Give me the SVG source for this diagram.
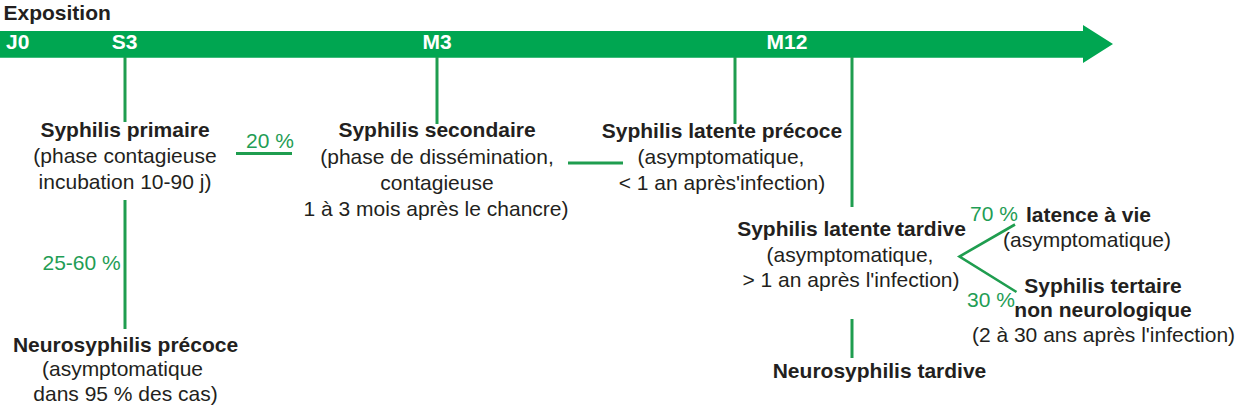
<svg xmlns="http://www.w3.org/2000/svg" width="1241" height="413" viewBox="0 0 1241 413">
<style>
text{font-family:"Liberation Sans",Arial,sans-serif;font-size:21px;fill:#231f20}
.b{font-weight:bold}
.m{text-anchor:middle}
.w{fill:#ffffff;font-weight:bold}
.g{fill:#1f9d55}
.ln{stroke:#1f9d4f;stroke-width:3;fill:none}
.v{stroke:#1f9d4f;stroke-width:2.6;fill:none}
</style>
<rect width="1241" height="413" fill="#ffffff"/>
<g id="timeline">
<text class="b" x="3.5" y="20">Exposition</text>
<polygon points="0,31 1083,31 1083,25 1113,44 1083,63 1083,57.7 0,57.7" fill="#00a651"/>
<text class="w" x="6" y="48.5">J0</text>
<text class="w m" x="124.5" y="48.5">S3</text>
<text class="w m" x="437" y="48.5">M3</text>
<text class="w m" x="787" y="48.5">M12</text>
</g>
<g id="connectors">
<line class="ln" x1="125" y1="57" x2="125" y2="122"/>
<line class="ln" x1="437" y1="57" x2="437" y2="124"/>
<line class="ln" x1="735" y1="57" x2="735" y2="124"/>
<line class="ln" x1="852" y1="57" x2="852" y2="207"/>
<line class="ln" x1="125" y1="200" x2="125" y2="329"/>
<line class="ln" x1="852" y1="319" x2="852" y2="358"/>
<line class="ln" x1="236" y1="153.5" x2="292" y2="153.5"/>
<line class="ln" x1="568" y1="163" x2="623" y2="163"/>
<polyline class="v" points="1015,224.5 959.5,256.5 1016.5,292"/>
<text class="g m" x="270" y="147.5">20 %</text>
<text class="g" x="120.7" y="269.5" text-anchor="end">25-60 %</text>
<text class="g m" x="994" y="221">70 %</text>
<text class="g m" x="991" y="306.5">30 %</text>
</g>
<g id="syphilis-primaire">
<text class="b m" x="125" y="137">Syphilis primaire</text>
<text class="m" x="125" y="163">(phase contagieuse</text>
<text class="m" x="125" y="189">incubation 10-90 j)</text>
</g>
<g id="syphilis-secondaire">
<text class="b m" x="437" y="137">Syphilis secondaire</text>
<text class="m" x="437" y="163.5">(phase de dissémination,</text>
<text class="m" x="437" y="190">contagieuse</text>
<text class="m" x="436" y="216">1 à 3 mois après le chancre)</text>
</g>
<g id="syphilis-latente-precoce">
<text class="b m" x="722" y="138">Syphilis latente précoce</text>
<text class="m" x="721" y="164">(asymptomatique,</text>
<text class="m" x="722" y="190">&lt; 1 an après'infection)</text>
</g>
<g id="syphilis-latente-tardive">
<text class="b m" x="851.5" y="236">Syphilis latente tardive</text>
<text class="m" x="850" y="262">(asymptomatique,</text>
<text class="m" x="851" y="287">&gt; 1 an après l'infection)</text>
</g>
<g id="latence-a-vie">
<text class="b" x="1026" y="221.5">latence à vie</text>
<text class="m" x="1087" y="246.5">(asymptomatique)</text>
</g>
<g id="syphilis-tertiaire">
<text class="b m" x="1103" y="293">Syphilis tertaire</text>
<text class="b m" x="1103" y="317">non neurologique</text>
<text class="m" x="1103.5" y="342">(2 à 30 ans après l'infection)</text>
</g>
<g id="neurosyphilis-precoce">
<text class="b m" x="125.5" y="351.5">Neurosyphilis précoce</text>
<text class="m" x="122.5" y="376">(asymptomatique</text>
<text class="m" x="125.5" y="401">dans 95 % des cas)</text>
</g>
<g id="neurosyphilis-tardive">
<text class="b m" x="879.5" y="377.5">Neurosyphilis tardive</text>
</g>
</svg>
